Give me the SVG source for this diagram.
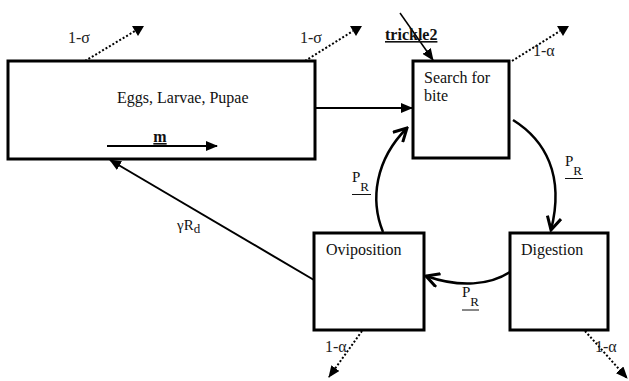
<svg xmlns="http://www.w3.org/2000/svg" width="629" height="381" viewBox="0 0 629 381">
<style>
.box{fill:#fff;stroke:#000;stroke-width:3}
.t{font-family:'Liberation Serif','DejaVu Serif',serif;font-size:16px;fill:#111}
.s{font-family:'Liberation Serif','DejaVu Serif',serif;font-size:16px;fill:#222}
.p{font-family:'Liberation Serif','DejaVu Serif',serif;font-size:15px;fill:#111}
.sub{font-size:13px}
.b{font-weight:bold;text-decoration:underline}
.ln{fill:none;stroke:#000;stroke-width:2}
.cv{fill:none;stroke:#000;stroke-width:2.5}
.dot{fill:none;stroke:#000;stroke-width:2;stroke-dasharray:2 2}
.ul{stroke:#111;stroke-width:1}
</style>
<defs>
<marker id="tri" viewBox="0 0 12 10" refX="11" refY="5" markerWidth="12" markerHeight="10" markerUnits="userSpaceOnUse" orient="auto"><path d="M0,0 L12,5 L0,10 z" fill="#000"/></marker>
<marker id="down" viewBox="0 0 12 10" refX="3" refY="5" markerWidth="12" markerHeight="10" markerUnits="userSpaceOnUse" orient="0"><path d="M0,0 L12,0 L6,10 z" fill="#000"/></marker>
<marker id="vee" viewBox="0 0 16 16" refX="14" refY="8" markerWidth="16" markerHeight="16" markerUnits="userSpaceOnUse" orient="auto"><path d="M1,1 L14,8 L1,15" fill="none" stroke="#000" stroke-width="3"/></marker>
</defs>

<g id="eggs">
<rect class="box" x="8" y="61" width="307" height="98"/>
<text class="t" x="117" y="103">Eggs, Larvae, Pupae</text>
</g>
<g id="search">
<rect class="box" x="413" y="61" width="96" height="97"/>
<text class="t" x="424" y="83">Search for</text>
<text class="t" x="424" y="101">bite</text>
</g>
<g id="digestion">
<rect class="box" x="510" y="233" width="98" height="97"/>
<text class="t" x="521" y="255">Digestion</text>
</g>
<g id="oviposition">
<rect class="box" x="314" y="233" width="110" height="97"/>
<text class="t" x="326" y="255">Oviposition</text>
</g>

<g id="connectors">
<path class="ln" d="M107,146 L217,146" marker-end="url(#tri)"/>
<text class="t b" x="160" y="142" text-anchor="middle">m</text>
<path class="ln" d="M315,108 L412,108" marker-end="url(#tri)"/>
<path class="ln" d="M400,13 L433,60" marker-end="url(#tri)" style="stroke-width:1.5"/>
<text class="t b" x="385" y="40">trickle2</text>
<path class="ln" d="M314,280 L110,160" marker-end="url(#tri)"/>
<text class="p" x="177" y="230">γR<tspan class="sub" dy="3">d</tspan></text>

<path class="cv" d="M513,120 C545,140 565,175 551,230" marker-end="url(#vee)"/>
<path class="cv" d="M383,232 C370,200 375,160 407,128" marker-end="url(#vee)"/>
<path class="cv" d="M510,272 C490,285 460,288 426,276" marker-end="url(#vee)"/>

<text class="p" x="565" y="166">P<tspan class="sub" dy="9">R</tspan></text>
<line class="ul" x1="565" y1="178.5" x2="583" y2="178.5"/>
<text class="p" x="352" y="182">P<tspan class="sub" dy="9">R</tspan></text>
<line class="ul" x1="352" y1="194.5" x2="371" y2="194.5"/>
<text class="p" x="462" y="297">P<tspan class="sub" dy="9">R</tspan></text>
<line class="ul" x1="462" y1="310" x2="479" y2="310"/>

<path class="dot" d="M85,61 L135,31" marker-end="url(#down)"/>
<path class="dot" d="M305,61 L353,31" marker-end="url(#down)"/>
<path class="dot" d="M512,61 L560,31" marker-end="url(#down)"/>
<path class="dot" d="M362,331 L329,377" marker-end="url(#tri)"/>
<path class="dot" d="M585,331 L627,378" marker-end="url(#tri)"/>
<text class="s" x="68" y="43">1-σ</text>
<text class="s" x="300" y="43">1-σ</text>
<text class="s" x="533" y="56">1-α</text>
<text class="s" x="325" y="352">1-α</text>
<text class="s" x="595" y="352">1-α</text>
</g>
</svg>
